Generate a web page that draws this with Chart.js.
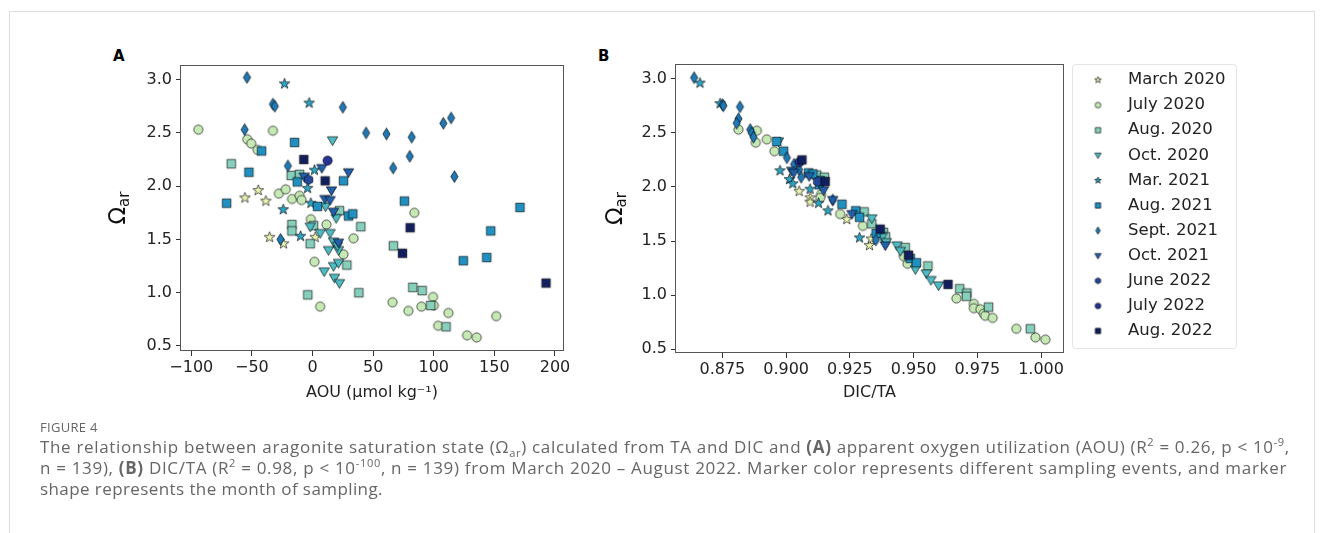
<!DOCTYPE html>
<html>
<head>
<meta charset="utf-8">
<script src="https://cdn.jsdelivr.net/npm/chart.js@4.4.0/dist/chart.umd.min.js"></script>
<style>
  body { margin:0; background:#fff; width:1322px; height:533px; overflow:hidden; position:relative; }
  #frame { position:absolute; left:9px; top:11px; width:1304px; height:600px; border:1px solid #dedede; }
  #wrapA { position:absolute; left:95px; top:40px; width:490px; height:380px; }
  #wrapB { position:absolute; left:590px; top:40px; width:680px; height:380px; }
  .panel { position:absolute; font:bold 15px "DejaVu Sans"; color:#000; }
  .cap { position:absolute; left:40px; font-family:"Open Sans"; font-size:17px; color:#666; white-space:nowrap; line-height:20px; }
  .cap sup, .cap sub { font-size:65%; line-height:0; }
  #figlabel { position:absolute; left:40px; top:418px; font-family:"Open Sans"; font-size:13px; color:#666; letter-spacing:0.3px; }
</style>
</head>
<body>
<div id="frame"></div>
<div class="panel" style="left:113px; top:47px;">A</div>
<div class="panel" style="left:598px; top:47px;">B</div>
<div id="wrapA"><canvas id="chartA" width="490" height="380"></canvas></div>
<div id="wrapB"><canvas id="chartB" width="680" height="380"></canvas></div>
<div id="figlabel">FIGURE 4</div>
<div class="cap" data-w="1250" style="top:437px">The relationship between aragonite saturation state (Ω<sub>ar</sub>) calculated from TA and DIC and <b>(A)</b> apparent oxygen utilization (AOU) (R<sup>2</sup> = 0.26, p &lt; 10<sup>-9</sup>,</div>
<div class="cap" data-w="1247" style="top:457.5px">n = 139), <b>(B)</b> DIC/TA (R<sup>2</sup> = 0.98, p &lt; 10<sup>-100</sup>, n = 139) from March 2020 – August 2022. Marker color represents different sampling events, and marker</div>
<div class="cap" data-w="343" style="top:478.5px">shape represents the month of sampling.</div>

<script>
// sampling events
let seriesLabels = ['March 2020', 'July 2020', 'Aug. 2020', 'Oct. 2020', 'Mar. 2021', 'Aug. 2021',
                    'Sept. 2021', 'Oct. 2021', 'June 2022', 'July 2022', 'Aug. 2022'];

// panel A : [AOU, omega_ar]
let aMar20 = [[-44.8,1.96],[-55.8,1.89],[-38.5,1.86],[-35.4,1.52],[-23.9,1.46],[2.2,1.52]];
let aJul20 = [[-94.2,2.53],[-32.7,2.52],[-53.9,2.44],[-50.6,2.40],[-45.3,2.34],[-27.8,1.93],[-22.1,1.97],
              [-16.9,1.88],[-10.7,1.91],[-9.1,1.87],[-1.4,1.69],[11.5,1.64],[1.6,1.29],[25.5,1.36],[33.8,1.51],
              [6.3,0.87],[84.0,1.75],[66.0,0.91],[79.1,0.83],[89.8,0.87],[99.4,0.96],[100.0,0.88],[112.1,0.81],
              [103.6,0.69],[127.5,0.60],[135.4,0.58],[151.5,0.78]];
let aAug20 = [[-67.0,2.21],[-17.6,2.10],[-10.7,2.11],[-17.0,1.64],[-17.0,1.58],[-1.9,1.46],[0.8,1.63],
              [22.2,1.77],[39.8,1.62],[28.3,1.26],[-3.9,0.98],[38.2,1.00],[66.7,1.44],[82.7,1.05],[90.4,1.02],
              [97.5,0.88],[110.1,0.68]];
let aOct20 = [[16.5,2.43],[10.7,1.81],[19.5,1.70],[-1.9,1.62],[6.3,1.56],[14.5,1.56],[17.3,1.48],[13.2,1.40],
              [21.4,1.40],[9.6,1.20],[17.3,1.25],[21.4,1.28],[18.1,1.14],[22.2,1.09],[20.6,1.44]];
let aMar21 = [[-23.1,2.96],[-2.8,2.78],[1.6,2.15],[-4.1,1.98],[-1.4,1.84],[-24.2,1.78],[-9.9,1.53]];
let aAug21 = [[-14.8,2.41],[-42.0,2.33],[-52.5,2.13],[-70.9,1.84],[-12.6,2.04],[4.1,1.81],[25.5,2.05],
              [29.7,1.72],[33.2,1.74],[75.8,1.86],[171.1,1.80],[147.0,1.58],[124.4,1.30],[143.7,1.33]];
let aSep21 = [[-54.1,3.02],[-32.7,2.77],[-31.1,2.75],[25.0,2.74],[-56.0,2.53],[44.2,2.50],[61.0,2.49],
              [81.8,2.46],[107.9,2.59],[114.3,2.64],[80.2,2.28],[66.5,2.17],[117.0,2.09],[-20.3,2.19],[-26.4,1.50]];
let aOct21 = [[7.7,2.17],[29.7,2.13],[15.6,1.96],[10.2,1.88],[14.5,1.87],[17.3,1.76],[21.4,1.47],[-6.9,2.09]];
let aJun22 = [[-3.3,2.06]];
let aJul22 = [[12.4,2.24]];
let aAug22 = [[-7.2,2.25],[10.4,2.05],[80.5,1.61],[74.2,1.37],[192.6,1.09]];

// panel B : [DIC/TA, omega_ar]
let bMar20 = [[0.9051,1.96],[0.9094,1.90],[0.9094,1.86],[0.9238,1.70],[0.9327,1.46],[0.9334,1.52]];
let bJul20 = [[0.8813,2.53],[0.8885,2.52],[0.8881,2.41],[0.8924,2.44],[0.8954,2.33],[0.9137,1.93],[0.9134,1.90],
              [0.9212,1.75],[0.9301,1.64],[0.9476,1.29],[0.9461,1.36],[0.9668,0.97],[0.9736,0.92],[0.9736,0.88],
              [0.9762,0.87],[0.9775,0.83],[0.9781,0.81],[0.9810,0.79],[0.9903,0.69],[0.9978,0.61],[1.0017,0.59]];
let bAug20 = [[0.9556,1.27],[0.9681,1.06],[0.9709,1.02],[0.9707,0.99],[0.9794,0.89],[0.9958,0.69],[0.9306,1.77],
              [0.9336,1.66],[0.9467,1.44],[0.9120,2.11],[0.9382,1.58],[0.9390,1.54],[0.9150,2.09]];
let bOct20 = [[0.8970,2.42],[0.9336,1.71],[0.9376,1.54],[0.9435,1.46],[0.9448,1.41],[0.9507,1.24],[0.9550,1.20],
              [0.9568,1.14],[0.9598,1.09],[0.9393,1.49]];
let bMar21 = [[0.8662,2.96],[0.8741,2.77],[0.8976,2.15],[0.9013,2.07],[0.9026,2.03],[0.9094,1.98],[0.9127,1.85],
              [0.9164,1.78],[0.9288,1.53]];
let bAug21 = [[0.8963,2.42],[0.8990,2.33],[0.9088,2.13],[0.9134,2.06],[0.9131,2.02],[0.9219,1.84],[0.9273,1.78],
              [0.9288,1.72],[0.9353,1.57],[0.9487,1.34],[0.9511,1.30],[0.9105,2.12]];
let bSep21 = [[0.8639,3.01],[0.8750,2.76],[0.8754,2.75],[0.8819,2.74],[0.8813,2.63],[0.8806,2.59],[0.8859,2.53],
              [0.8865,2.50],[0.8872,2.46],[0.9003,2.27],[0.9031,2.21],[0.9051,2.16],[0.9059,2.09],[0.9183,1.88],[0.9352,1.51]];
let bOct21 = [[0.9022,2.15],[0.9090,2.10],[0.9147,1.97],[0.9183,1.88],[0.9258,1.75],[0.9389,1.46],[0.9030,2.13]];
let bJun22 = [[0.9124,2.05]];
let bJul22 = [[0.9052,2.23]];
let bAug22 = [[0.9062,2.25],[0.9153,2.05],[0.9369,1.61],[0.9480,1.37],[0.9635,1.10]];

let xTicksA = [-100, -50, 0, 50, 100, 150, 200];
let xTicksB = [0.875, 0.900, 0.925, 0.950, 0.975, 1.000];
let yTicks = [0.5, 1.0, 1.5, 2.0, 2.5, 3.0];

let panelA = [aMar20, aJul20, aAug20, aOct20, aMar21, aAug21, aSep21, aOct21, aJun22, aJul22, aAug22];
let panelB = [bMar20, bJul20, bAug20, bOct20, bMar21, bAug21, bSep21, bOct21, bJun22, bJul22, bAug22];

let colors = ['#e9f6b2', '#c5e8b5', '#86cfbb', '#4fbbc3', '#2ca4c3', '#1f90c0', '#2078b4', '#2260a9',
              '#24479d', '#253494', '#111f5e'];
let shapes = ['star', 'circle', 'square', 'tri', 'star', 'square', 'diamond', 'tri', 'hex', 'circle', 'square'];

const FONT = 'DejaVu Sans';

// stretch the caption lines to the width they have in the figure
document.querySelectorAll('.cap').forEach(el => {
  let natural = el.getBoundingClientRect().width;
  let n = el.textContent.length;
  el.style.letterSpacing = ((+el.dataset.w - natural) / n).toFixed(3) + 'px';
});

function makeMarker(shape, color, k) {
  let size = Math.ceil(15 * k) | 1;
  let c = document.createElement('canvas');
  c.width = size; c.height = size;
  let g = c.getContext('2d');
  g.translate(size / 2, size / 2);
  g.beginPath();
  if (shape == 'circle') {
    g.arc(0, 0, 4.6 * k, 0, Math.PI * 2);
  } else if (shape == 'square') {
    g.rect(-4.3 * k, -4.3 * k, 8.6 * k, 8.6 * k);
  } else if (shape == 'tri') {
    g.moveTo(-5.2 * k, -3.6 * k); g.lineTo(5.2 * k, -3.6 * k); g.lineTo(0, 5.2 * k); g.closePath();
  } else if (shape == 'diamond') {
    g.moveTo(0, -5.9 * k); g.lineTo(3.6 * k, 0); g.lineTo(0, 5.9 * k); g.lineTo(-3.6 * k, 0); g.closePath();
  } else if (shape == 'hex') {
    for (let j = 0; j < 6; j++) {
      let a = -Math.PI / 2 + j * Math.PI / 3;
      g.lineTo(Math.cos(a) * 4.9 * k, Math.sin(a) * 4.9 * k);
    }
    g.closePath();
  } else if (shape == 'star') {
    for (let j = 0; j < 10; j++) {
      let a = -Math.PI / 2 + j * Math.PI / 5;
      let r = (j % 2 == 0 ? 5.6 : 2.3) * k;
      g.lineTo(Math.cos(a) * r, Math.sin(a) * r);
    }
    g.closePath();
  }
  g.fillStyle = color;
  g.fill();
  g.lineWidth = 0.8;
  g.strokeStyle = 'rgba(0,0,0,0.8)';
  g.stroke();
  return c;
}

let markers = shapes.map((s, i) => makeMarker(s, colors[i], 1));
let legendMarkers = shapes.map((s, i) => makeMarker(s, colors[i], 0.62));

function toPoints(list) {
  return list.map(p => ({x: p[0], y: p[1]}));
}

function makeDatasets(panel) {
  return seriesLabels.map((label, i) => ({
    label: label,
    data: toPoints(panel[i]),
    pointStyle: markers[i],
    pointRadius: 5,
    backgroundColor: colors[i],
    order: seriesLabels.length - 1 - i
  }));
}

// box round the plot area, the omega title, and the legend of panel B
const framePlugin = {
  id: 'frame',
  afterDraw(chart, args, opts) {
    let a = chart.chartArea;
    let ctx = chart.ctx;
    ctx.save();
    ctx.strokeStyle = '#555';
    ctx.lineWidth = 1;
    ctx.strokeRect(Math.round(a.left) - 0.5, Math.round(a.top) + 0.5, Math.round(a.right - a.left) + 1, Math.round(a.bottom - a.top) - 1);

    ctx.save();
    ctx.translate(opts.titleX, (a.top + a.bottom) / 2);
    ctx.rotate(-Math.PI / 2);
    ctx.fillStyle = '#111';
    ctx.textBaseline = 'alphabetic';
    ctx.font = '23px "' + FONT + '"';
    let w1 = ctx.measureText('Ω').width;
    ctx.font = '15px "' + FONT + '"';
    let w2 = ctx.measureText('ar').width;
    let start = -(w1 + w2) / 2;
    ctx.font = '23px "' + FONT + '"';
    ctx.fillText('Ω', start, 8);
    ctx.font = '15px "' + FONT + '"';
    ctx.fillText('ar', start + w1, 12);
    ctx.restore();

    if (opts.legend) {
      let L = opts.legend;
      ctx.strokeStyle = '#e4e4e4';
      ctx.beginPath();
      ctx.roundRect(L.x + 0.5, L.y + 0.5, L.w, L.h, 3);
      ctx.stroke();
      ctx.font = '16.5px "' + FONT + '"';
      ctx.fillStyle = '#222';
      ctx.textBaseline = 'middle';
      seriesLabels.forEach((t, i) => {
        let y = L.y + L.first + i * L.step;
        let m = legendMarkers[i];
        ctx.drawImage(m, L.markX - m.width / 2, y - m.height / 2);
        ctx.fillText(t, L.textX, y);
      });
    }
    ctx.restore();
  }
};

function makeOptions(cfg) {
  return {
    responsive: false,
    animation: false,
    events: [],
    layout: {padding: cfg.padding},
    plugins: {
      tooltip: {enabled: false},
      legend: {display: false},
      frame: {titleX: cfg.titleX, legend: cfg.legend}
    },
    scales: {
      x: {
        type: 'linear',
        min: cfg.xMin,
        max: cfg.xMax,
        afterBuildTicks: s => { s.ticks = cfg.xTicks.map(v => ({value: v})); },
        afterFit: s => { s.height = cfg.xHeight; },
        ticks: {
          font: {family: FONT, size: 16}, color: '#222', padding: 2, maxRotation: 0, autoSkip: false,
          callback: cfg.xFormat
        },
        grid: {display: true, drawOnChartArea: false, drawTicks: true, tickLength: 5, color: '#333'},
        border: {display: false},
        title: {
          display: true, text: cfg.xTitle, color: '#222',
          font: {family: FONT, size: 16}, padding: {top: 2, bottom: cfg.xTitlePad}
        }
      },
      y: {
        type: 'linear',
        min: cfg.yMin,
        max: cfg.yMax,
        afterBuildTicks: s => { s.ticks = yTicks.map(v => ({value: v})); },
        afterFit: s => { s.width = cfg.yWidth; },
        ticks: {
          font: {family: FONT, size: 16}, color: '#222', padding: 4, autoSkip: false,
          callback: v => v.toFixed(1)
        },
        grid: {display: true, drawOnChartArea: false, drawTicks: true, tickLength: 5, color: '#333'},
        border: {display: false}
      }
    }
  };
}

new Chart(document.getElementById('chartA'), {
  type: 'scatter',
  data: {datasets: makeDatasets(panelA)},
  options: makeOptions({
    padding: {top: 25, right: 22, bottom: 0, left: 0},
    xMin: -108.5, xMax: 206.6, yMin: 0.453, yMax: 3.137,
    xTicks: xTicksA,
    xFormat: v => String(v).replace('-', '\u2212'),
    xTitle: 'AOU (\u03bcmol kg\u207b\u00b9)',
    xHeight: 69, xTitlePad: 17.5, yWidth: 86, titleX: 22, legend: null
  }),
  plugins: [framePlugin]
});

new Chart(document.getElementById('chartB'), {
  type: 'scatter',
  data: {datasets: makeDatasets(panelB)},
  options: makeOptions({
    padding: {top: 24, right: 207, bottom: 0, left: 0},
    xMin: 0.8568, xMax: 1.0086, yMin: 0.466, yMax: 3.136,
    xTicks: xTicksB,
    xFormat: v => v.toFixed(3),
    xTitle: 'DIC/TA',
    xHeight: 67, xTitlePad: 17.5, yWidth: 86, titleX: 24,
    legend: {x: 482, y: 24, w: 164, h: 284, first: 16, step: 25.1, markX: 508, textX: 538}
  }),
  plugins: [framePlugin]
});
</script>
</body>
</html>
